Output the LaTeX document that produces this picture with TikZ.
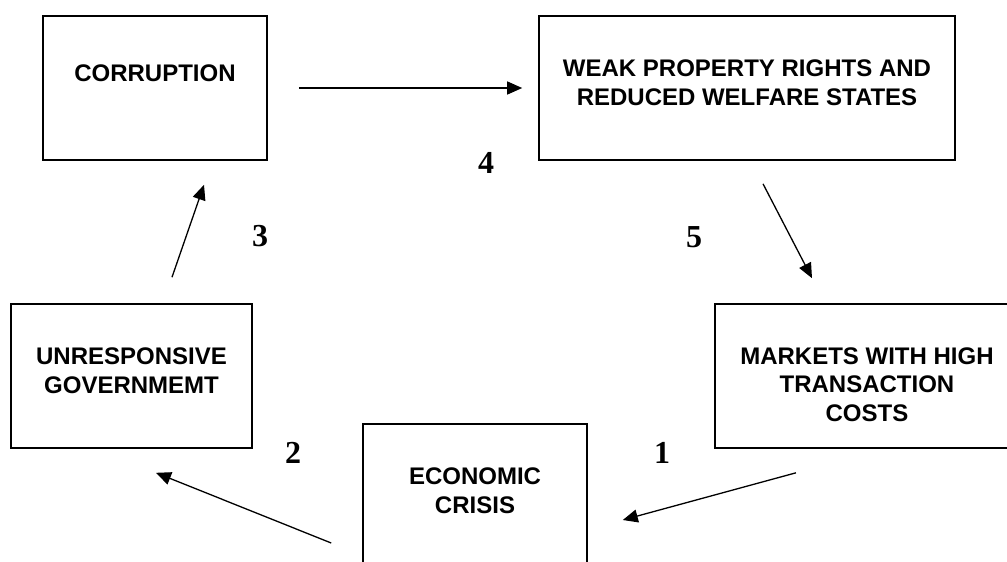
\documentclass[tikz,border=0pt]{standalone}
\usepackage{fontspec}
\setmainfont{Liberation Serif}
\newfontfamily\boxfont{Liberation Sans}
\usepackage{tikz}
\usetikzlibrary{calc,arrows.meta,positioning}
\newcommand\BoxHeight{144pt}
\newcommand\BoxRule{1.6pt}
\tikzstyle{box}=[rectangle,draw=black,line width=\BoxRule,
                     minimum height=\BoxHeight,inner sep=0pt]
\tikzstyle{txt}=[align=center,inner sep=0pt,
                     font=\boxfont\bfseries\fontsize{24}{28.7}\selectfont]
\tikzstyle{num}=[inner sep=0pt,font=\bfseries\fontsize{32}{36}\selectfont]
\tikzstyle{arr}=[line width=1.3pt,-{Triangle[length=15pt,width=13pt]}]

\begin{document}
\begin{tikzpicture}[x=1pt,y=-1pt]
      \useasboundingbox (0,0) rectangle (1007,562);
      \clip (0,0) rectangle (1007,562);
      \node[box,minimum width=224pt] (corruption) at (155,88) {};
      \node[box,minimum width=416pt] (weak) at (747,88) {};
      \node[box,minimum width=241pt] (unresp) at (131.5,376) {};
      \node[box,minimum width=304pt] (markets) at (867,376) {};
      \node[box,minimum width=224pt] (crisis) at (475,496) {};
      \node[txt] (corruptiontxt) at (155,73) {CORRUPTION};
      \node[txt] (weaktxt) at (747,82.5) {WEAK PROPERTY RIGHTS AND\\REDUCED WELFARE STATES};
      \node[txt] (unresptxt) at (131.5,371) {UNRESPONSIVE\\GOVERNMEMT};
      \node[txt] (marketstxt) at (867,384.5) {MARKETS WITH HIGH\\TRANSACTION\\COSTS};
      \node[txt] (crisistxt) at (475,490.5) {ECONOMIC\\CRISIS};
      \node[num] (n1) at (662,453) {1};
      \node[num] (n2) at (293,453) {2};
      \node[num] (n3) at (260,236) {3};
      \node[num] (n4) at (486,163) {4};
      \node[num] (n5) at (694,237) {5};
      \draw[arr] ($(corruption.east)+(31,0)$) -- ($(weak.west)+(-16,0)$);
      \draw[arr] ($(weak.south)+(16,23)$) -- ($(markets.north)+(-55,-25)$);
      \draw[arr] ($(markets.south)+(-71,24)$) -- ($(crisis.east)+(35,24)$);
      \draw[arr] ($(crisis.west)+(-31,47)$) -- ($(unresp.south)+(24.5,24)$);
      \draw[arr] ($(unresp.north)+(40.5,-26)$) -- ($(corruption.south)+(49,24)$);
   \end{tikzpicture}
\end{document}
